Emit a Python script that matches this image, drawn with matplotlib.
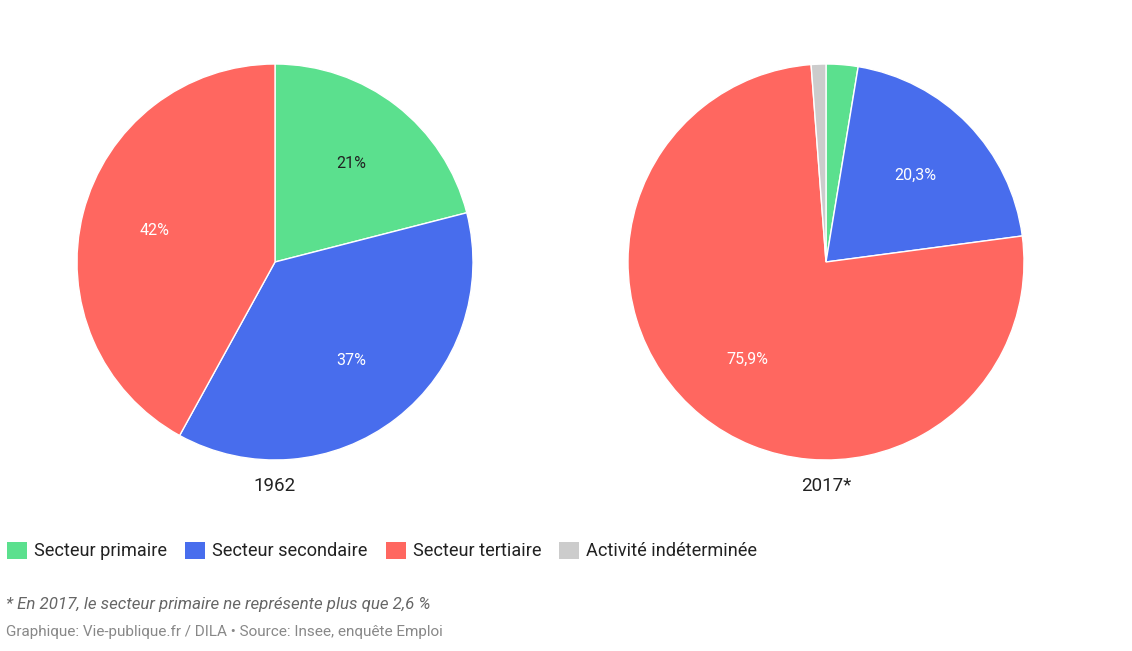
import numpy as np
import matplotlib.pyplot as plt

plt.rcParams['font.family'] = ['Roboto', 'DejaVu Sans']

# Data
categories = ['Secteur primaire', 'Secteur secondaire', 'Secteur tertiaire', 'Activité indéterminée']
colors = ['#5be08e', '#486ded', '#ff6760', '#cccccc']
years = ['1962', '2017*']
values_1962 = [21, 37, 42]
values_2017 = [2.6, 20.3, 75.9, 1.2]
labels_1962 = ['21%', '37%', '42%']
labels_2017 = ['', '20,3%', '75,9%', '']
label_colors_1962 = ['#222222', 'white', 'white']
label_colors_2017 = ['#222222', 'white', 'white', 'white']

fig = plt.figure(figsize=(11.32, 6.51), dpi=100)


def draw_pie(ax, vals, cols, labels, lcolors, title):
    wedges, _ = ax.pie(vals, colors=cols, startangle=90, counterclock=False,
                       radius=1, wedgeprops=dict(edgecolor='white', linewidth=1))
    for w, lab, lc in zip(wedges, labels, lcolors):
        if not lab:
            continue
        mid = np.deg2rad((w.theta1 + w.theta2) / 2)
        ax.text(0.63 * np.cos(mid), 0.63 * np.sin(mid), lab, ha='center', va='center',
                fontsize=11.5, color=lc)
    ax.set_xlim(-1, 1)
    ax.set_ylim(-1, 1)
    ax.text(0, -1.13, title, ha='center', va='center', fontsize=13.5, color='#222222')
    return wedges


ax1 = fig.add_axes([(275 - 198) / 1132, (651 - 460) / 651, 396 / 1132, 396 / 651])
draw_pie(ax1, values_1962, colors[:3], labels_1962, label_colors_1962, years[0])

ax2 = fig.add_axes([(826 - 198) / 1132, (651 - 460) / 651, 396 / 1132, 396 / 651])
wedges2 = draw_pie(ax2, values_2017, colors, labels_2017, label_colors_2017, years[1])

leg = fig.legend(wedges2, categories, ncol=4, loc='center left',
                 bbox_to_anchor=(7 / 1132, 1 - 551 / 651), frameon=False,
                 fontsize=13.1, handlelength=1.1, handleheight=1.1,
                 handletextpad=0.38, columnspacing=1.0, labelcolor='#222222',
                 borderpad=0, borderaxespad=0)
for h in leg.legend_handles:
    h.set_edgecolor('none')

fig.text(6 / 1132, 1 - 604 / 651, '* En 2017, le secteur primaire ne représente plus que 2,6 %',
         fontsize=12.2, style='italic', color='#666666', va='center', ha='left')
fig.text(6 / 1132, 1 - 632 / 651, 'Graphique: Vie-publique.fr / DILA • Source: Insee, enquête Emploi',
         fontsize=11, color='#888888', va='center', ha='left')

fig.savefig('out.png', dpi=100, facecolor='white')
